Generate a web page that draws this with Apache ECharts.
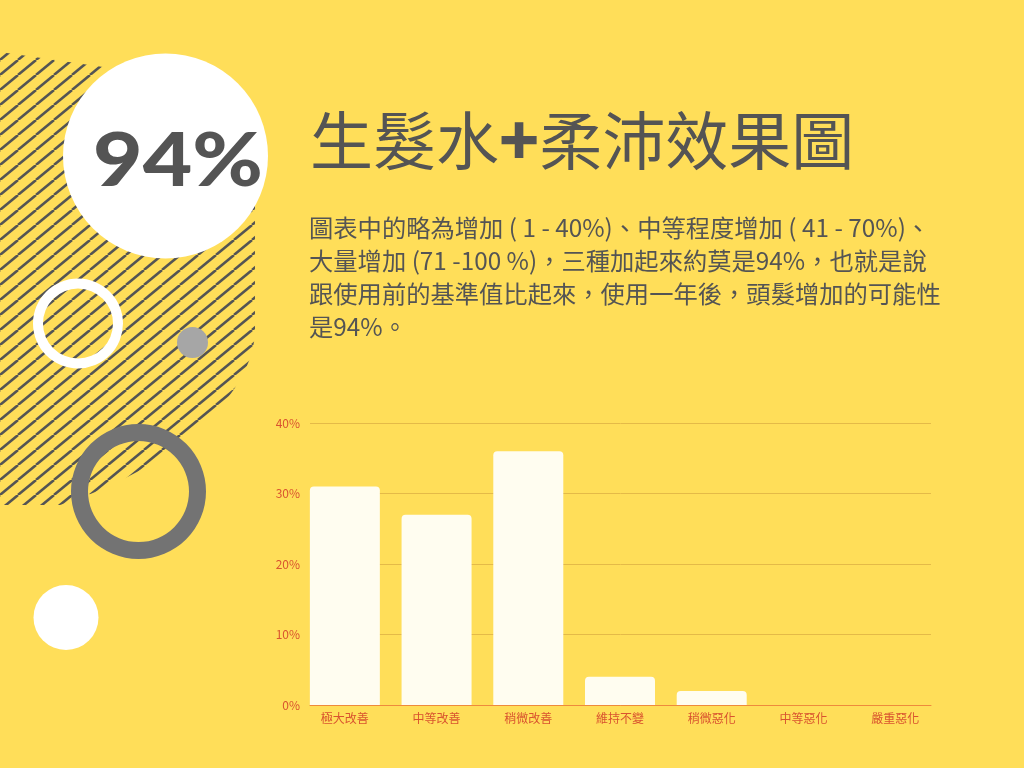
<!DOCTYPE html>
<html>
<head>
<meta charset="utf-8">
<title>生髮水+柔沛效果圖</title>
<script src="https://cdn.jsdelivr.net/npm/echarts@6/dist/echarts.min.js"></script>
<style>
  html, body { margin: 0; padding: 0; background: #FFDE59; }
  #chart { width: 1024px; height: 768px; }
</style>
</head>
<body>
<div id="chart"></div>
<script>
// chart data
var categories = ['極大改善', '中等改善', '稍微改善', '維持不變', '稍微惡化', '中等惡化', '嚴重惡化'];
var values = [31, 27, 36, 4, 2, 0, 0];
var yMin = 0;
var yMax = 40;
var yStep = 10;

var bigNumber = '94%';
var titleParts = ['生髮水', '+', '柔沛效果圖'];
var noteLines = [
  '圖表中的略為增加 ( 1 - 40%)、中等程度增加 ( 41 - 70%)、',
  '大量增加 (71 -100 %)，三種加起來約莫是94%，也就是說',
  '跟使用前的基準值比起來，使用一年後，頭髮增加的可能性',
  '是94%。'
];

var CJK = '"Noto Sans CJK TC", "Noto Sans CJK SC", sans-serif';
var DARK = '#545454';
var RED = '#D9532F';

// diagonal hatch tile for the striped block on the left
function hatchTile() {
  var w = 18, h = 15;
  var c = document.createElement('canvas');
  c.width = w;
  c.height = h;
  var ctx = c.getContext('2d');
  ctx.strokeStyle = DARK;
  ctx.lineWidth = 2.5;
  [-w, 0, w].forEach(function (dx) {
    ctx.beginPath();
    ctx.moveTo(dx, h);
    ctx.lineTo(dx + w, 0);
    ctx.stroke();
  });
  return c;
}

// outline of the striped block, rounded at the lower right
function hatchOutline() {
  var pts = [[0, 52], [110, 68], [255, 190], [255, 330]];
  var p0 = [255, 330], p1 = [255, 395], p2 = [170, 470], p3 = [60, 505];
  for (var i = 1; i <= 20; i++) {
    var t = i / 20, u = 1 - t;
    pts.push([
      u * u * u * p0[0] + 3 * u * u * t * p1[0] + 3 * u * t * t * p2[0] + t * t * t * p3[0],
      u * u * u * p0[1] + 3 * u * u * t * p1[1] + 3 * u * t * t * p2[1] + t * t * t * p3[1]
    ]);
  }
  pts.push([0, 505]);
  return pts;
}

var myChart = echarts.init(document.getElementById('chart'), null, { renderer: 'canvas' });

var option = {
  backgroundColor: '#FFDE59',
  animation: false,
  graphic: [
    {
      type: 'polygon', z: 1,
      shape: { points: hatchOutline() },
      style: { fill: { image: hatchTile(), repeat: 'repeat' } }
    },
    { type: 'circle', z: 2, shape: { cx: 165.5, cy: 156, r: 102.5 }, style: { fill: '#FFFFFF' } },
    {
      // wide, heavy figure in the white circle
      type: 'text', z: 3, x: 178, y: 162, scaleX: 1.14,
      style: {
        text: bigNumber, fill: DARK, font: '900 75px Lato, "Open Sans", sans-serif',
        align: 'center', verticalAlign: 'middle'
      }
    },
    { type: 'ring', z: 2, shape: { cx: 78, cy: 323.5, r: 45, r0: 35 }, style: { fill: '#FFFFFF' } },
    { type: 'circle', z: 2, shape: { cx: 192.5, cy: 342.5, r: 15.5 }, style: { fill: '#A6A6A6' } },
    { type: 'ring', z: 2, shape: { cx: 138.5, cy: 491.5, r: 67.5, r0: 50.5 }, style: { fill: '#737373' } },
    { type: 'circle', z: 2, shape: { cx: 66, cy: 617.5, r: 32.5 }, style: { fill: '#FFFFFF' } },
    {
      type: 'text', z: 3, x: 310, y: 140,
      style: {
        text: titleParts[0] + '{p|' + titleParts[1] + '}' + titleParts[2],
        fill: DARK, fontSize: 63, fontFamily: CJK,
        align: 'left', verticalAlign: 'middle',
        rich: {
          p: { fill: DARK, fontSize: 66, fontFamily: CJK, fontWeight: 900 }
        }
      }
    },
    {
      type: 'text', z: 3, x: 309, y: 211.5,
      style: {
        text: noteLines.join('\n'),
        fill: DARK, fontSize: 24.3, fontFamily: CJK,
        lineHeight: 33, align: 'left', verticalAlign: 'top'
      }
    }
  ],
  grid: [
    { left: 299, right: 83, top: 423, bottom: 63 },
    { left: 310, right: 93, top: 423, bottom: 63 }
  ],
  xAxis: [
    {
      type: 'category', gridIndex: 0, data: categories,
      axisLine: { show: false }, axisTick: { show: false },
      axisLabel: { color: RED, fontSize: 12, fontFamily: CJK, margin: 7 }
    },
    {
      type: 'category', gridIndex: 1, data: categories,
      axisLine: { show: true, lineStyle: { color: '#EE8A3C', width: 1 } },
      axisTick: { show: false }, axisLabel: { show: false }
    }
  ],
  yAxis: [
    { type: 'value', gridIndex: 0, min: yMin, max: yMax, interval: yStep, show: false },
    {
      type: 'value', gridIndex: 1, min: yMin, max: yMax, interval: yStep,
      axisLine: { show: false }, axisTick: { show: false },
      axisLabel: { color: RED, fontSize: 12, fontFamily: CJK, margin: 10, formatter: '{value}%' },
      splitLine: { lineStyle: { color: '#E4BA48', width: 1 } }
    }
  ],
  series: [
    {
      type: 'bar', xAxisIndex: 0, yAxisIndex: 0, z: 3,
      data: values, barWidth: 70,
      itemStyle: { color: '#FFFDF0', borderRadius: [4, 4, 0, 0] }
    }
  ]
};

myChart.setOption(option);
</script>
</body>
</html>
